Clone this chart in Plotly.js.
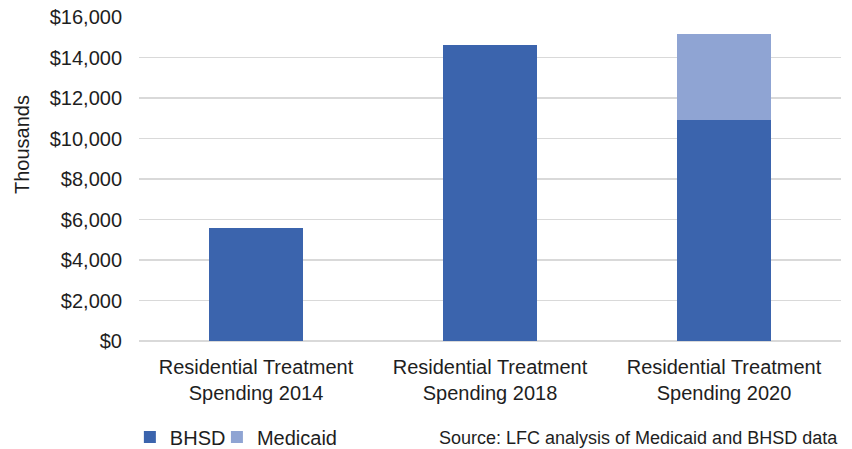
<!DOCTYPE html>
<html>
<head>
<meta charset="utf-8">
<script src="https://cdn.plot.ly/plotly-3.0.1.min.js"></script>
<style>html,body{margin:0;padding:0;background:#fff;}#chart{width:852px;height:449px;}</style>
</head>
<body>
<div id="chart"></div>
<script>
var categories = ["Residential Treatment<br>Spending 2014", "Residential Treatment<br>Spending 2018", "Residential Treatment<br>Spending 2020"];
var bhsd = [5570, 14620, 10910];
var medicaid = [0, 0, 4250];
var tickVals = [0, 2000, 4000, 6000, 8000, 10000, 12000, 14000, 16000];
var tickText = ["$0", "$2,000", "$4,000", "$6,000", "$8,000", "$10,000", "$12,000", "$14,000", "$16,000"];

var font = {family: "Liberation Sans, Arial, sans-serif", size: 20, color: "#1e1e1e"};

var data = [
  {type: "bar", name: "BHSD", x: categories, y: bhsd, marker: {color: "#3B64AD"}, width: 0.4, hoverinfo: "none", legend: "legend"},
  {type: "bar", name: "Medicaid", x: categories, y: medicaid, marker: {color: "#8FA4D3"}, width: 0.4, hoverinfo: "none", legend: "legend2"}
];

var layout = {
  width: 852, height: 449,
  margin: {l: 139, r: 11, t: 17, b: 108, autoexpand: false},
  barmode: "stack",
  paper_bgcolor: "#fff", plot_bgcolor: "#fff",
  font: font,
  showlegend: true,
  legend: {orientation: "h", x: -0.013, xanchor: "left", y: -0.296, yanchor: "middle", font: font, bgcolor: "rgba(0,0,0,0)"},
  legend2: {orientation: "h", x: 0.111, xanchor: "left", y: -0.296, yanchor: "middle", font: font, bgcolor: "rgba(0,0,0,0)"},
  xaxis: {tickfont: font, showgrid: false, zeroline: false, showline: false, ticks: "", ticklabelstandoff: 12, fixedrange: true},
  yaxis: {range: [0, 16000], tickvals: tickVals, ticktext: tickText, tickfont: font, showgrid: true, gridcolor: "#d9d9d9", gridwidth: 1.5, zeroline: true, zerolinecolor: "#d9d9d9", zerolinewidth: 1.5, showline: false, ticks: "", ticklabelstandoff: 16, fixedrange: true},
  annotations: [
    {text: "Thousands", textangle: -90, xref: "paper", yref: "paper", x: -0.1667, y: 0.608, xanchor: "center", yanchor: "middle", showarrow: false, font: font},
    {text: "Source: LFC analysis of Medicaid and BHSD data", xref: "paper", yref: "paper", x: 0.425, y: -0.262, xanchor: "left", yanchor: "top", showarrow: false, font: {family: "Liberation Sans, Arial, sans-serif", size: 18, color: "#1e1e1e"}}
  ]
};

Plotly.newPlot("chart", data, layout, {displayModeBar: false, staticPlot: true});
</script>
</body>
</html>
